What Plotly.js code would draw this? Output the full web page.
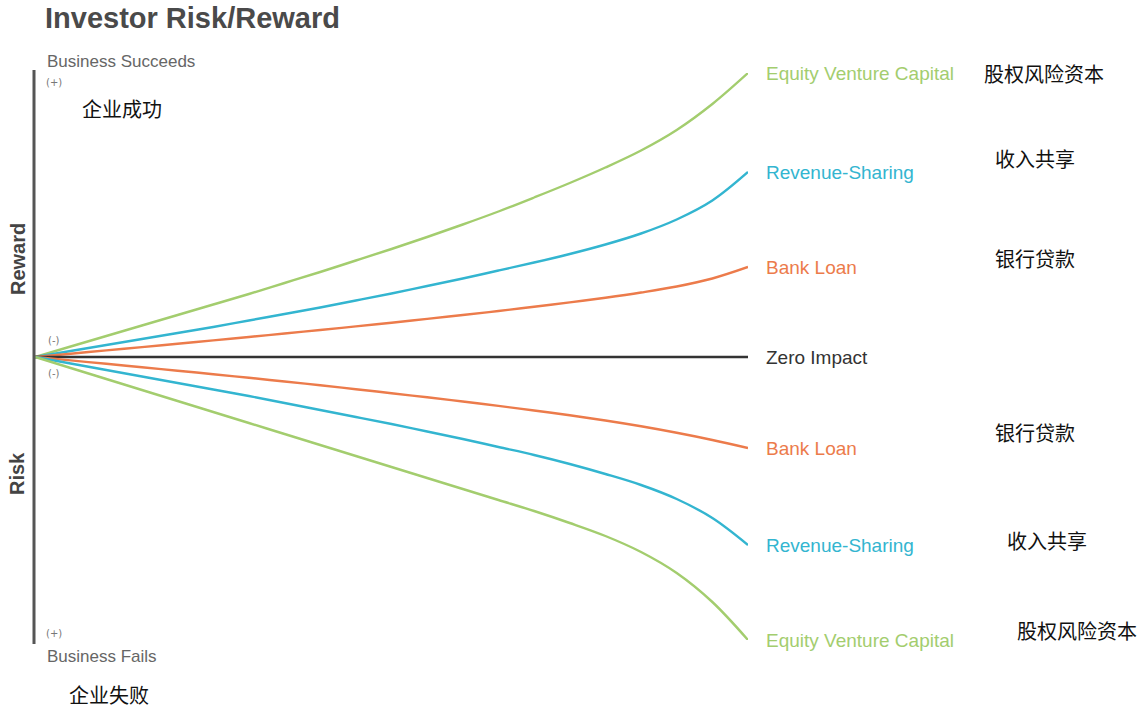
<!DOCTYPE html>
<html>
<head>
<meta charset="utf-8">
<script src="https://cdn.plot.ly/plotly-3.0.1.min.js"></script>
<style>html,body{margin:0;padding:0;background:#fff;}#chart{width:1142px;height:708px;}</style>
</head>
<body>
<div id="chart"></div>
<script>
// Time / stage axis (arbitrary units)
const stage = [0,0.5,1,1.5,2,2.5,3,3.5,4,4.5,5,5.5,6,6.5,7,7.5,8,8.5,9,9.5,10];
// Reward side (business succeeds)
const equityUp  = [0,10.5,21,31.5,42,52.5,63,74,85,96.5,108,120,132.5,145.5,159.5,174,189.5,206.5,227,253,284];
const revenueUp = [0,6,12,18,24,30,36.5,43,49.5,56.5,63.5,71,78.5,86.5,94.5,103,112.5,123.5,137.5,156.5,185];
const bankUp    = [0,3.3,6.6,9.9,13.2,16.6,20,23.5,27,30.6,34.3,38.1,42,46,50.2,54.6,59.3,64.5,70.5,78.5,90];
const zeroLine  = [0,0,0,0,0,0,0,0,0,0,0,0,0,0,0,0,0,0,0,0,0];
// Risk side (business fails)
const bankDown    = [0,-3.4,-6.8,-10.2,-13.7,-17.2,-20.8,-24.5,-28.3,-32.2,-36.2,-40.3,-44.5,-48.9,-53.5,-58.3,-63.5,-69.3,-75.8,-83,-91];
const revenueDown = [0,-6.5,-13,-19.5,-26,-32.5,-39,-46,-53,-60,-67,-74.5,-82,-90,-98,-107,-117,-128,-142,-161,-188];
const equityDown  = [0,-11,-22,-33,-44,-55,-66,-77,-88,-99,-110,-121,-132,-143,-154,-166,-179,-195,-216,-245,-283];

const seriesNames = ['Equity Venture Capital','Revenue-Sharing','Bank Loan','Zero Impact','Bank Loan','Revenue-Sharing','Equity Venture Capital'];
const seriesCN    = ['股权风险资本','收入共享','银行贷款','','银行贷款','收入共享','股权风险资本'];
const seriesVals  = [equityUp, revenueUp, bankUp, zeroLine, bankDown, revenueDown, equityDown];

const GREEN='#a3cd6e', BLUE='#33b5d0', ORANGE='#ec7b4b', DARK='#333333';
const colors=[GREEN,BLUE,ORANGE,DARK,ORANGE,BLUE,GREEN];
const cnX=[982,993,993,0,993,1005,1015];
const cnY=[73,158,258,0,432,540,630];

// plot area in pixels
const L=35,R=748,T=73,B=640,W=1142,H=708;
const px=x=>(x-L)/(R-L);
const py=y=>(B-y)/(B-T);

const traces = seriesVals.map((v,i)=>({
  x:stage, y:v, mode:'lines', type:'scatter',
  line:{color:colors[i], width: i===3?2.6:2.4, shape:'spline', smoothing:1},
  hoverinfo:'skip', showlegend:false
}));

const SANS='Liberation Sans, Arial, sans-serif';
const ann=[];
seriesVals.forEach((v,i)=>{
  ann.push({xref:'x',yref:'y',x:stage[stage.length-1],y:v[v.length-1],xshift:16,
    text:seriesNames[i],showarrow:false,xanchor:'left',yanchor:'middle',
    font:{family:SANS,size:19,color:colors[i]}});
  if(seriesCN[i]){
    ann.push({xref:'paper',yref:'paper',x:px(cnX[i]),y:py(cnY[i]),text:seriesCN[i],showarrow:false,
      xanchor:'left',yanchor:'middle',font:{family:'Noto Sans CJK SC',size:20,color:'#111'}});
  }
});
const txt=(x,y,t,opt)=>ann.push(Object.assign({xref:'paper',yref:'paper',x:px(x),y:py(y),text:t,showarrow:false,
  xanchor:'left',yanchor:'middle'},opt));
txt(43,18,'<b>Investor Risk/Reward</b>',{font:{family:SANS,size:29,color:'#4a4a4a'}});
txt(45,62,'Business Succeeds',{font:{family:SANS,size:17,color:'#666'}});
txt(45,656,'Business Fails',{font:{family:SANS,size:17,color:'#666'}});
txt(80,108,'企业成功',{font:{family:'Noto Sans CJK SC',size:20,color:'#111'}});
txt(67,694,'企业失败',{font:{family:'Noto Sans CJK SC',size:20,color:'#111'}});
txt(54,82,'(+)',{xanchor:'center',font:{family:'DejaVu Sans',size:10,color:'#777'}});
txt(54,340,'(-)',{xanchor:'center',font:{family:'DejaVu Sans',size:10,color:'#777'}});
txt(54,373,'(-)',{xanchor:'center',font:{family:'DejaVu Sans',size:10,color:'#777'}});
txt(54,633,'(+)',{xanchor:'center',font:{family:'DejaVu Sans',size:10,color:'#777'}});
txt(18,259,'<b>Reward</b>',{xanchor:'center',textangle:-90,font:{family:SANS,size:20,color:'#444'}});
txt(17,474,'<b>Risk</b>',{xanchor:'center',textangle:-90,font:{family:SANS,size:20,color:'#444'}});

const layout={
  width:W,height:H,
  margin:{l:L,r:W-R,t:T,b:H-B,pad:0},
  paper_bgcolor:'#fff',plot_bgcolor:'#fff',
  xaxis:{range:[0,10],visible:false,fixedrange:true},
  yaxis:{range:[-283,284],visible:false,fixedrange:true},
  showlegend:false,
  annotations:ann,
  shapes:[{type:'line',xref:'paper',yref:'paper',x0:px(34),x1:px(34),y0:py(70),y1:py(644),
    line:{color:'#555',width:3}}]
};
Plotly.newPlot('chart',traces,layout,{displayModeBar:false,staticPlot:true});
</script>
</body>
</html>
